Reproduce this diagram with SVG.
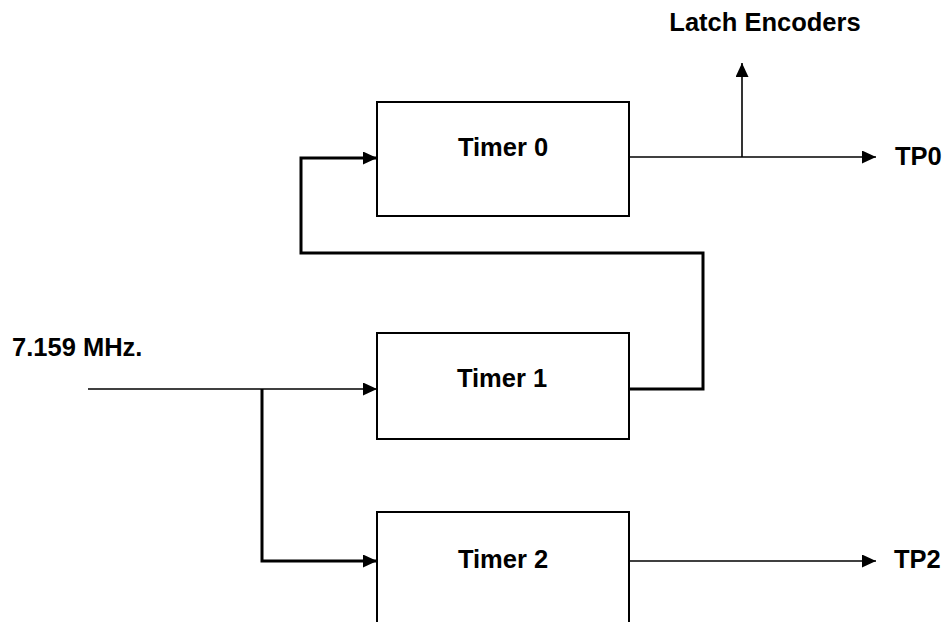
<svg xmlns="http://www.w3.org/2000/svg" width="945" height="622" viewBox="0 0 945 622">
  <style>
    .box { fill: #fff; stroke: #000; stroke-width: 2; }
    .lbl { font-family: "Liberation Sans", Arial, sans-serif; font-weight: bold; font-size: 25.5px; fill: #000; }
    .thin { fill: none; stroke: #000; stroke-width: 1.6; }
    .thick { fill: none; stroke: #000; stroke-width: 3; }
  </style>
  <defs>
    <marker id="arrow" markerUnits="userSpaceOnUse" markerWidth="15" markerHeight="13" refX="14" refY="6.5" orient="auto">
      <path d="M0,0 L14,6.5 L0,13 Z" fill="#000"/>
    </marker>
  </defs>

  <!-- connectors -->
  <g id="connectors">
    <!-- clock input to Timer 1 -->
    <line class="thin" x1="88" y1="389" x2="377" y2="389" marker-end="url(#arrow)"/>
    <!-- clock branch to Timer 2 -->
    <polyline class="thick" points="262,389 262,561 377,561" marker-end="url(#arrow)"/>
    <!-- Timer 1 output fed back to Timer 0 -->
    <polyline class="thick" points="628,389 703,389 703,253 301,253 301,158 377,158" marker-end="url(#arrow)"/>
    <!-- Timer 0 output -->
    <line class="thin" x1="629" y1="157" x2="876" y2="157" marker-end="url(#arrow)"/>
    <line class="thin" x1="742" y1="157" x2="742" y2="63" marker-end="url(#arrow)"/>
    <!-- Timer 2 output -->
    <line class="thin" x1="629" y1="561" x2="876" y2="561" marker-end="url(#arrow)"/>
  </g>

  <g id="timer0">
    <rect class="box" x="377" y="102" width="252" height="114"/>
    <text class="lbl" x="503" y="156" text-anchor="middle">Timer 0</text>
  </g>
  <g id="timer1">
    <rect class="box" x="377" y="333" width="252" height="106"/>
    <text class="lbl" x="502" y="387" text-anchor="middle">Timer 1</text>
  </g>
  <g id="timer2">
    <rect class="box" x="377" y="512" width="252" height="130"/>
    <text class="lbl" x="503" y="568" text-anchor="middle">Timer 2</text>
  </g>

  <g id="clock">
    <text class="lbl" x="12" y="356">7.159 MHz.</text>
  </g>
  <g id="latch">
    <text class="lbl" x="765" y="31" text-anchor="middle">Latch Encoders</text>
  </g>
  <g id="tp0">
    <text class="lbl" x="895" y="165">TP0</text>
  </g>
  <g id="tp2">
    <text class="lbl" x="894" y="568">TP2</text>
  </g>
</svg>
